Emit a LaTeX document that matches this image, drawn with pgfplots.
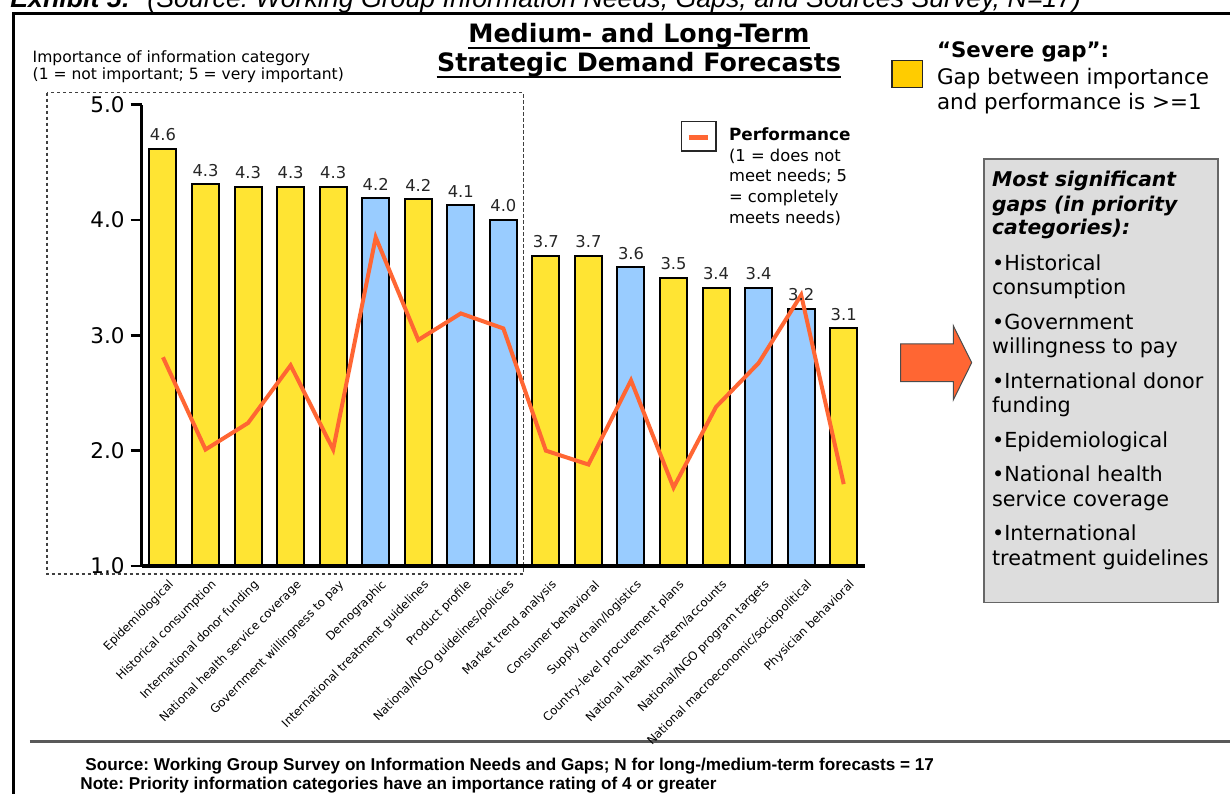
\documentclass[border=0pt]{standalone}
\usepackage{pgfplots}
\pgfplotsset{compat=1.18}
\usepackage{fontspec}
\setmainfont{DejaVu Sans}
\newfontfamily\arial{Liberation Sans}
\definecolor{baryellow}{HTML}{FFE433}
\definecolor{barblue}{HTML}{99CCFF}
\definecolor{perforange}{HTML}{FF6633}
\definecolor{swatchyellow}{HTML}{FFCC00}
\definecolor{boxgray}{HTML}{DDDDDD}
\newcommand{\fs}[1]{\fontsize{#1}{#1}\selectfont}
\frenchspacing
\begin{document}
\begin{tikzpicture}
% page = 1230 x 794 px, 1 px = 0.5 bp
\path[use as bounding box] (0,0) rectangle (615bp,397bp);
\begin{scope}[shift={(0,397bp)}, x=0.5bp, y=-0.5bp]
  % frame
  \draw[line width=1.5bp] (13.3,800) -- (13.3,14) -- (1240,14);
  \draw[black!65, line width=1.3bp] (30,741.7) -- (1240,741.7);
  % exhibit heading (cut at top)
  \node[anchor=base west, inner sep=0pt, font=\arial\bfseries\itshape\fs{13.4}] at (10,7.8) {Exhibit 5:};
  \node[anchor=base west, inner sep=0pt, font=\arial\itshape\fs{13.4}] at (147,7.8) {(Source: Working Group Information Needs, Gaps, and Sources Survey, N=17)};
  % dashed priority region
  \draw[black!75, line width=0.6bp, dash pattern=on 1.6bp off 1.4bp] (47,92.7) rectangle (523.3,574);
  % y label
  \node[anchor=base west, inner sep=0pt, font=\fs{7.8}] at (32.3,63) {Importance of information category};
  \node[anchor=base west, inner sep=0pt, font=\fs{7.8}] at (32.3,80) {(1 = not important; 5 = very important)};
  % title
  \node[anchor=base, inner sep=0pt, font=\bfseries\fs{12.7}] (t1) at (639,42.7) {Medium- and Long-Term};
  \node[anchor=base, inner sep=0pt, font=\bfseries\fs{12.7}] (t2) at (639,71.7) {Strategic Demand Forecasts};
  \draw[line width=1bp] ([yshift=-2.9bp]t1.base west) -- ([yshift=-2.9bp]t1.base east);
  \draw[line width=1bp] ([yshift=-2.9bp]t2.base west) -- ([yshift=-2.9bp]t2.base east);
  % severe gap legend
  \draw[fill=swatchyellow, draw=black!85, line width=0.8bp] (892.3,60.7) rectangle (922.7,87.7);
  \node[anchor=base west, inner sep=0pt, font=\bfseries\fs{10.7}] at (936.7,57.7) {“Severe gap”:};
  \node[anchor=base west, inner sep=0pt, font=\fs{10.75}] at (936.7,84.3) {Gap between importance};
  \node[anchor=base west, inner sep=0pt, font=\fs{10.75}] at (936.7,110) {and performance is >=1};
  % performance legend
  \draw[draw=black!85, line width=0.7bp] (681.7,121.7) rectangle (716,151);
  \draw[perforange, line width=2.5bp] (688.7,137.3) -- (708,137.3);
  \node[anchor=base west, inner sep=0pt, font=\bfseries\fs{8.45}] at (728.7,140.7) {Performance};
  \node[anchor=base west, inner sep=0pt, font=\fs{8.2}] at (728.7,161.7) {(1 = does not};
  \node[anchor=base west, inner sep=0pt, font=\fs{8.2}] at (728.7,181.7) {meet needs; 5};
  \node[anchor=base west, inner sep=0pt, font=\fs{8.2}] at (728.7,202.7) {= completely};
  \node[anchor=base west, inner sep=0pt, font=\fs{8.2}] at (728.7,223.3) {meets needs)};
  % arrow
  \draw[fill=perforange, draw=black!70, line width=0.5bp] (900.7,344) -- (953.3,344) -- (953.3,325.7) -- (971.7,362.7) -- (953.3,400) -- (953.3,381.7) -- (900.7,381.7) -- cycle;
  % gray box
  \draw[fill=boxgray, draw=black!60, line width=0.8bp] (984.3,159) rectangle (1218.3,602.7);
  \foreach \yy/\tt in {186.7/Most significant, 211.5/gaps (in priority, 235/categories):}
    \node[anchor=base west, inner sep=0pt, font=\bfseries\itshape\fs{10.2}] at (991.7,\yy) {\tt};
  \foreach \yy/\tt in {270.5/•Historical, 295/consumption, 330/•Government, 353.5/willingness to pay, 389/•International donor, 413/funding, 447.5/•Epidemiological, 482/•National health, 507/service coverage, 541/•International, 566/treatment guidelines}
    \node[anchor=base west, inner sep=0pt, font=\fs{10.4}] at (991.7,\yy) {\tt};
  % footer
  \node[anchor=base west, inner sep=0pt, font=\arial\bfseries\fs{8.6}] at (85,770.7) {Source: Working Group Survey on Information Needs and Gaps; N for long-/medium-term forecasts = 17};
  \node[anchor=base west, inner sep=0pt, font=\arial\bfseries\fs{8.6}] at (80,790) {Note: Priority information categories have an importance rating of 4 or greater};
\end{scope}

\begin{axis}[
  at={(70.85bp,114bp)}, anchor=south west, scale only axis,
  width=361.65bp, height=230.65bp,
  xmin=-0.5, xmax=16.5, ymin=1, ymax=5,
  axis x line*=bottom, axis y line*=left,
  x axis line style={line width=2bp, -},
  y axis line style={line width=1.5bp, -},
  axis on top,
  ytick={1,2,3,4,5},
  xtick={0,...,16},
  xticklabels={Epidemiological, Historical consumption, International donor funding, National health service coverage, Government willingness to pay, Demographic, International treatment guidelines, Product profile, National/NGO guidelines/policies, Market trend analysis, Consumer behavioral, Supply chain/logistics, Country-level procurement plans, National health system/accounts, National/NGO program targets, National macroeconomic/sociopolitical, Physician behavioral},
  tick align=outside,
  major tick length=5.5bp,
  ytick style={line width=1.2bp, black},
  xtick style={draw=none},
  yticklabel style={font=\fs{10.8}, inner sep=0pt, xshift=-2.85bp},
  xticklabel style={font=\fs{5.9}, inner sep=0pt, xshift=4.5bp, yshift=-3bp, rotate=45, anchor=east},
  /pgf/number format/fixed, /pgf/number format/fixed zerofill,
  /pgf/number format/precision=1, /pgf/number format/assume math mode=true,
]
\addplot[ybar, bar width=13.5bp, bar shift=0pt, fill=baryellow, draw=black, line width=1bp,
  nodes near coords, nodes near coords style={font=\fs{8.2}, color=black!85, anchor=south, inner sep=0pt, yshift=3.5bp}]
  coordinates {(0,4.62) (1,4.31) (2,4.29) (3,4.29) (4,4.29) (6,4.18) (9,3.69) (10,3.69) (12,3.50) (13,3.41) (16,3.06)};
\addplot[ybar, bar width=13.5bp, bar shift=0pt, fill=barblue, draw=black, line width=1bp,
  nodes near coords, nodes near coords style={font=\fs{8.2}, color=black!85, anchor=south, inner sep=0pt, yshift=3.5bp}]
  coordinates {(5,4.19) (7,4.13) (8,4.00) (11,3.59) (14,3.41) (15,3.23)};
\addplot[sharp plot, color=perforange, line width=2bp, no markers, line join=miter]
  coordinates {(0,2.81) (1,2.01) (2,2.24) (3,2.74) (4,2.01) (5,3.85) (6,2.96) (7,3.19) (8,3.06) (9,2.00) (10,1.88) (11,2.61) (12,1.68) (13,2.38) (14,2.76) (15,3.35) (16,1.71)};
\end{axis}
\end{tikzpicture}
\end{document}
